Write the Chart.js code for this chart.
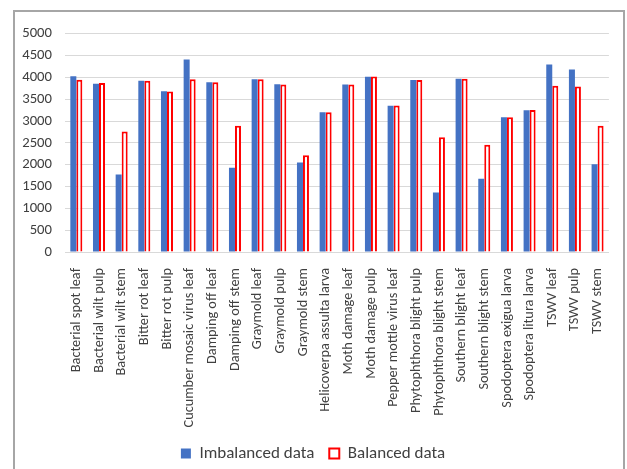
<!DOCTYPE html>
<html lang="en">
<head>
    <meta charset="UTF-8">
    <title>Imbalanced vs balanced data</title>
    <style>
        body {
            margin: 0;
            padding: 0;
            background: #ffffff;
            width: 627px;
            height: 469px;
            overflow: hidden;
        }
        .frame {
            position: absolute;
            left: 13px;
            top: 10px;
            width: 608px;
            height: 470px;
            border: 2px solid #a6a6a6;
            border-bottom: none;
        }
        .chart-box {
            position: relative;
            width: 608px;
            height: 457px;
        }
    </style>
</head>
<body>
    <div class="frame">
        <div class="chart-box">
            <canvas id="classChart"></canvas>
        </div>
    </div>

    <script src="https://cdn.jsdelivr.net/npm/chart.js"></script>
    <script>
        const categories = [
            'Bacterial spot leaf', 'Bacterial wilt pulp', 'Bacterial wilt stem',
            'Bitter rot leaf', 'Bitter rot pulp', 'Cucumber mosaic virus leaf',
            'Damping off leaf', 'Damping off stem', 'Graymold leaf', 'Graymold pulp',
            'Graymold stem', 'Helicoverpa assulta larva', 'Moth damage leaf',
            'Moth damage pulp', 'Pepper mottle virus leaf', 'Phytophthora blight pulp',
            'Phytophthora blight stem', 'Southern blight leaf', 'Southern blight stem',
            'Spodoptera exigua larva', 'Spodoptera litura larva', 'TSWV leaf',
            'TSWV pulp', 'TSWV stem'
        ];
        const imbalanced = [4030, 3855, 1775, 3925, 3685, 4410, 3890, 1930, 3960, 3845, 2050, 3200,
                            3840, 4015, 3350, 3940, 1365, 3970, 1680, 3090, 3250, 4295, 4185, 2010];
        const balanced = [3950, 3875, 2760, 3925, 3680, 3960, 3890, 2895, 3960, 3840, 2215, 3200,
                          3840, 4020, 3355, 3940, 2630, 3970, 2460, 3090, 3255, 3810, 3790, 2895];
        const yMax = 5000;
        const yStep = 500;

        const textColor = '#404040';
        const gridColor = '#d9d9d9';
        const fontFamily = "Carlito, 'Liberation Sans', Arial, sans-serif";

        const ctx = document.getElementById('classChart').getContext('2d');
        new Chart(ctx, {
            type: 'bar',
            data: {
                labels: categories,
                datasets: [{
                    label: 'Imbalanced data',
                    data: imbalanced,
                    backgroundColor: '#4472c4',
                    borderWidth: 0
                }, {
                    label: 'Balanced data',
                    data: balanced,
                    backgroundColor: '#ffffff',
                    borderColor: '#ff0000',
                    borderWidth: 2
                }]
            },
            options: {
                responsive: true,
                maintainAspectRatio: false,
                animation: false,
                categoryPercentage: 0.53,
                barPercentage: 1.0,
                layout: {
                    padding: { top: -5, right: 12, left: 0, bottom: -3 }
                },
                scales: {
                    x: {
                        grid: { display: false },
                        border: { display: true, color: gridColor, width: 1 },
                        ticks: {
                            color: textColor,
                            font: { family: fontFamily, size: 14.3 },
                            minRotation: 90,
                            maxRotation: 90,
                            autoSkip: false,
                            padding: 8
                        },
                        afterFit: scale => { scale.height = 178; }
                    },
                    y: {
                        min: 0,
                        max: yMax,
                        grid: { color: gridColor, drawTicks: false },
                        border: { display: false },
                        ticks: {
                            stepSize: yStep,
                            color: textColor,
                            font: { family: fontFamily, size: 14.7 },
                            padding: 13,
                            callback: value => String(value)
                        },
                        afterFit: scale => { scale.width = 50; }
                    }
                },
                plugins: {
                    legend: {
                        position: 'bottom',
                        labels: {
                            color: textColor,
                            font: { family: fontFamily, size: 17 },
                            boxWidth: 10,
                            boxHeight: 10,
                            padding: 15
                        }
                    },
                    tooltip: { enabled: false }
                }
            }
        });
    </script>
</body>
</html>
